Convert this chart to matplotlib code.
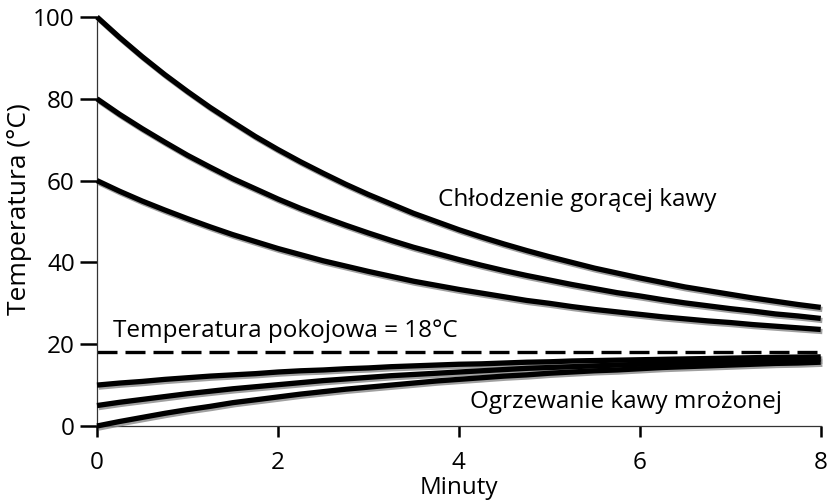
import matplotlib
matplotlib.use("Agg")
import matplotlib.pyplot as plt
import matplotlib.patheffects as pe

plt.rcParams['font.family'] = ['Open Sans', 'DejaVu Sans']

minutes = [0, 0.25, 0.5, 0.75, 1, 1.25, 1.5, 1.75, 2, 2.25, 2.5, 2.75, 3, 3.25, 3.5, 3.75,
           4, 4.25, 4.5, 4.75, 5, 5.25, 5.5, 5.75, 6, 6.25, 6.5, 6.75, 7, 7.25, 7.5, 7.75, 8]
hot_100 = [100, 95.0, 90.3, 85.9, 81.8, 77.9, 74.3, 70.8, 67.6, 64.6, 61.8, 59.1, 56.6, 54.3, 52.0, 50.0,
           48.0, 46.2, 44.5, 42.9, 41.4, 40.0, 38.6, 37.4, 36.2, 35.1, 34.0, 33.1, 32.2, 31.3, 30.5, 29.7, 29.0]
hot_80 = [80, 76.2, 72.7, 69.4, 66.2, 63.3, 60.5, 58.0, 55.5, 53.2, 51.1, 49.1, 47.2, 45.4, 43.7, 42.2,
          40.7, 39.3, 38.0, 36.8, 35.7, 34.6, 33.6, 32.6, 31.8, 30.9, 30.1, 29.4, 28.7, 28.1, 27.4, 26.9, 26.3]
hot_60 = [60, 57.4, 55.0, 52.8, 50.7, 48.7, 46.8, 45.1, 43.4, 41.9, 40.4, 39.1, 37.8, 36.6, 35.4, 34.4,
          33.4, 32.5, 31.6, 30.7, 30.0, 29.2, 28.5, 27.9, 27.3, 26.7, 26.2, 25.7, 25.3, 24.8, 24.4, 24.0, 23.6]
cold_10 = [10, 10.5, 10.9, 11.4, 11.8, 12.2, 12.5, 12.8, 13.2, 13.5, 13.7, 14.0, 14.2, 14.5, 14.7, 14.9,
           15.1, 15.2, 15.4, 15.6, 15.7, 15.9, 16.0, 16.1, 16.2, 16.3, 16.4, 16.5, 16.6, 16.7, 16.8, 16.85, 16.9]
cold_5 = [5, 5.8, 6.5, 7.2, 7.9, 8.5, 9.1, 9.6, 10.1, 10.6, 11.1, 11.5, 11.9, 12.3, 12.6, 12.9,
          13.2, 13.5, 13.8, 14.1, 14.3, 14.5, 14.7, 14.9, 15.1, 15.3, 15.5, 15.6, 15.8, 15.9, 16.0, 16.1, 16.3]
cold_0 = [0, 1.1, 2.1, 3.1, 4.0, 4.8, 5.7, 6.4, 7.1, 7.8, 8.4, 9.0, 9.5, 10.0, 10.5, 11.0,
          11.4, 11.8, 12.2, 12.5, 12.9, 13.2, 13.5, 13.7, 14.0, 14.3, 14.5, 14.7, 14.9, 15.1, 15.3, 15.4, 15.6]
room_temp = 18

x_ticks = [0, 2, 4, 6, 8]
y_ticks = [0, 20, 40, 60, 80, 100]

FS = 17.5

fig = plt.figure(figsize=(8.29, 5), dpi=100)
ax = fig.add_axes([0.117, 0.148, 0.873, 0.818])

shadow = [pe.SimpleLineShadow(offset=(1.2, -1.5), shadow_color='#888888', alpha=0.8), pe.Normal()]

ax.plot([0, 8], [room_temp, room_temp], color='black', lw=2.4, dashes=(6, 2.4), zorder=2)
for series in [hot_100, hot_80, hot_60, cold_10, cold_5, cold_0]:
    ax.plot(minutes, series, color='black', lw=3.8, solid_capstyle='butt',
            path_effects=shadow, clip_on=False, zorder=3)

ax.set_xlim(0, 8)
ax.set_ylim(0, 100)
ax.set_xticks(x_ticks)
ax.set_yticks(y_ticks)
ax.tick_params(axis='y', direction='out', length=12, width=1.8, labelsize=FS, pad=4, color='black')
ax.tick_params(axis='x', direction='out', length=8, width=1.8, labelsize=FS, pad=10, color='black')
for s in ['top', 'right']:
    ax.spines[s].set_visible(False)
for s in ['left', 'bottom']:
    ax.spines[s].set_linewidth(0.9)
    ax.spines[s].set_color('#333333')

ax.set_xlabel('Minuty', fontsize=FS, labelpad=1)
ax.set_ylabel('Temperatura (°C)', fontsize=19)
ax.yaxis.set_label_coords(-0.09, 0.53)

ax.text(3.77, 55.3, 'Chłodzenie gorącej kawy', fontsize=FS, va='center', ha='left')
ax.text(0.18, 23.3, 'Temperatura pokojowa = 18°C', fontsize=FS, va='center', ha='left')
ax.text(4.12, 5.9, 'Ogrzewanie kawy mrożonej', fontsize=FS, va='center', ha='left')

fig.savefig('out.png', dpi=100)
